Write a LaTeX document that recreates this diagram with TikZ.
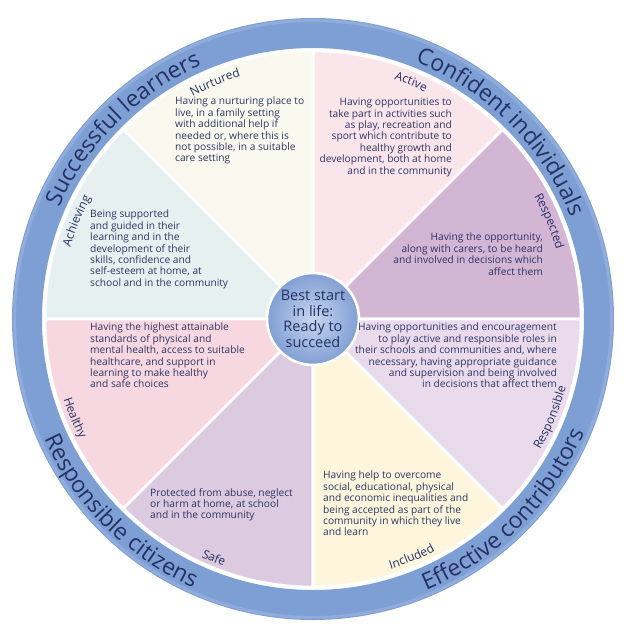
\documentclass[tikz,border=0pt]{standalone}
\usepackage{fontspec}
\setmainfont{Open Sans}
\usetikzlibrary{decorations.text}
\definecolor{ringblue}{HTML}{7E9FD3}
\definecolor{ringlight}{HTML}{9BB6E2}
\definecolor{navy}{HTML}{253163}
\definecolor{bodytext}{HTML}{2E3564}
\definecolor{cRespected}{HTML}{D3B5D4}
\definecolor{cActive}{HTML}{FAE5EB}
\definecolor{cNurtured}{HTML}{FAF9EF}
\definecolor{cAchieving}{HTML}{E7F0F0}
\definecolor{cHealthy}{HTML}{F8D8E0}
\definecolor{cSafe}{HTML}{DCCAE0}
\definecolor{cIncluded}{HTML}{FDF6DC}
\definecolor{cResponsible}{HTML}{E9DBEB}
\definecolor{cCentreIn}{HTML}{C8D6F0}
\definecolor{cCentreOut}{HTML}{809FD3}
\tikzset{
  sector/.style={draw=white, line width=2.6pt, line join=round},
  bodytxt/.style={inner sep=0pt, text=bodytext, font=\fontsize{10.2}{11.4}\selectfont},
  lefttxt/.style={bodytxt, anchor=north west, align=left},
  righttxt/.style={bodytxt, anchor=north east, align=right},
}
\newcommand{\ringfont}{\fontsize{23}{26}\selectfont}
\newcommand{\labfont}{\fontsize{12}{14}\selectfont}
\begin{document}
\begin{tikzpicture}[x=1pt,y=1pt]
\useasboundingbox (-313,-322) rectangle (318,319);
\fill[white] (-313,-322) rectangle (318,319);
% ring
\fill[ringblue, even odd rule] (0,0) circle[radius=301pt] (0,0) circle[radius=271pt];
\draw[ringlight, line width=3pt, opacity=0.6] (0,0) circle[radius=298.5pt];
% sectors
\foreach \a/\c in {0/cRespected,45/cActive,90/cNurtured,135/cAchieving,180/cHealthy,225/cSafe,270/cIncluded,315/cResponsible}{
  \filldraw[sector, fill=\c] (0,0) -- (\a:268) arc[start angle=\a, end angle=\a+45, radius=268pt] -- cycle;
}
% centre
\shade[inner color=cCentreIn, outer color=cCentreOut] (0,0) circle[radius=46pt];
\draw[white, line width=2.6pt] (0,0) circle[radius=46pt];
\node[text=navy, align=center, font=\fontsize{14.5}{15.5}\selectfont] (centre) at (0,0) {Best start\\in life:\\Ready to\\succeed};
% ring texts
\path[decorate, decoration={text along path, text align=center, text color=navy, text={|\ringfont|Successful learners}}]
  (178:277) arc[start angle=178, end angle=92, radius=277pt];
\path[decorate, decoration={text along path, text align=center, text color=navy, text={|\ringfont|Confident individuals}}]
  (88:277) arc[start angle=88, end angle=2, radius=277pt];
\path[decorate, decoration={text along path, text align=center, text color=navy, text={|\ringfont|Responsible citizens}}]
  (182:294) arc[start angle=182, end angle=268, radius=294pt];
\path[decorate, decoration={text along path, text align=center, text color=navy, text={|\ringfont|Effective contributors}}]
  (272:294) arc[start angle=272, end angle=358, radius=294pt];
% sector labels
\path[decorate, decoration={text along path, text align=center, text color=navy, text={|\labfont|Nurtured}}]
  (130:253) arc[start angle=130, end angle=95, radius=253pt];
\path[decorate, decoration={text along path, text align=center, text color=navy, text={|\labfont|Active}}]
  (85:253) arc[start angle=85, end angle=50, radius=253pt];
\path[decorate, decoration={text along path, text align=center, text color=navy, text={|\labfont|Respected}}]
  (40:253) arc[start angle=40, end angle=5, radius=253pt];
\path[decorate, decoration={text along path, text align=center, text color=navy, text={|\labfont|Achieving}}]
  (175:253) arc[start angle=175, end angle=140, radius=253pt];
\path[decorate, decoration={text along path, text align=center, text color=navy, text={|\labfont|Healthy}}]
  (185:262) arc[start angle=185, end angle=220, radius=262pt];
\path[decorate, decoration={text along path, text align=center, text color=navy, text={|\labfont|Safe}}]
  (230:263) arc[start angle=230, end angle=265, radius=263pt];
\path[decorate, decoration={text along path, text align=center, text color=navy, text={|\labfont|Included}}]
  (275:262) arc[start angle=275, end angle=310, radius=262pt];
\path[decorate, decoration={text along path, text align=center, text color=navy, text={|\labfont|Responsible}}]
  (320:262) arc[start angle=320, end angle=355, radius=262pt];
% body texts
\node[lefttxt] (tNurtured) at (-138,222) {Having a nurturing place to\\live, in a family setting\\with additional help if\\needed or, where this is\\not possible, in a suitable\\care setting};
\node[righttxt] (tActive) at (139,221) {Having opportunities to\\take part in activities such\\as play, recreation and\\sport which contribute to\\healthy growth and\\development, both at home\\and in the community};
\node[righttxt] (tRespected) at (230,86) {Having the opportunity,\\along with carers, to be heard\\and involved in decisions which\\affect them};
\node[lefttxt] (tAchieving) at (-223,109) {Being supported\\and guided in their\\learning and in the\\development of their\\skills, confidence and\\self-esteem at home, at\\school and in the community};
\node[lefttxt] (tHealthy) at (-223,-4) {Having the highest attainable\\standards of physical and\\mental health, access to suitable\\healthcare, and support in\\learning to make healthy\\and safe choices};
\node[lefttxt] (tSafe) at (-163,-169) {Protected from abuse, neglect\\or harm at home, at school\\and in the community};
\node[righttxt] (tResponsible) at (244,-4) {Having opportunities and encouragement\\to play active and responsible roles in\\their schools and communities and, where\\necessary, having appropriate guidance\\and supervision and being involved\\in decisions that affect them};
\node[lefttxt] (tIncluded) at (10,-152) {Having help to overcome\\social, educational, physical\\and economic inequalities and\\being accepted as part of the\\community in which they live\\and learn};
\end{tikzpicture}
\end{document}
